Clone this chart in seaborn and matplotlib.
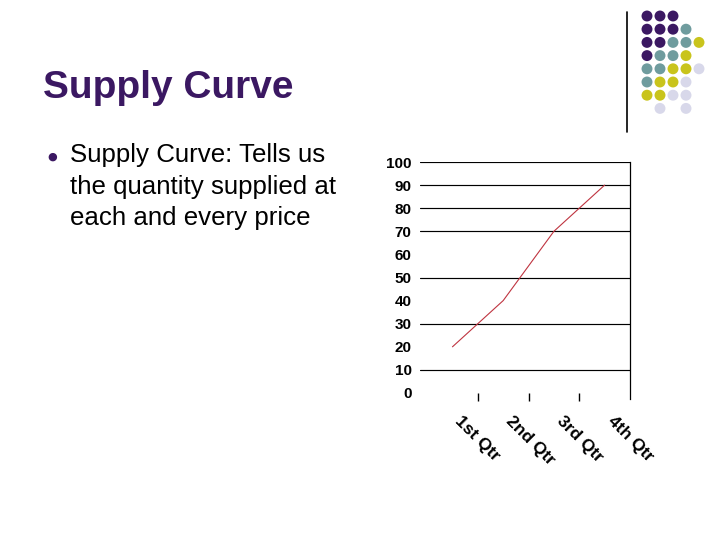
import matplotlib
matplotlib.use("Agg")
import matplotlib.pyplot as plt
import matplotlib.transforms as mtransforms
import seaborn as sns
import pandas as pd

# ---- data ----
quarters = ["1st Qtr", "2nd Qtr", "3rd Qtr", "4th Qtr"]
supply = [20, 40, 70, 90]
y_ticks = [0, 10, 20, 30, 40, 50, 60, 70, 80, 90, 100]
grid_values = [10, 30, 50, 70, 80, 90, 100]

title_text = "Supply Curve"
bullet_lines = ["Supply Curve: Tells us", "the quantity supplied at", "each and every price"]

# decorative dot grid (rows top->bottom, columns left->right)
dot_rows = [
    "PPP",
    "PPPT",
    "PPTTY",
    "PTTY",
    "TTYYL",
    "TYYL",
    "YYLL",
    " L L",
]
dot_colors = {"P": "#3b1862", "T": "#6f9c9e", "Y": "#c9c41c", "L": "#d8d8ea"}

sns.set_theme(style="white")
plt.rcParams["font.family"] = ["Liberation Sans", "DejaVu Sans"]

fig = plt.figure(figsize=(7.2, 5.4), dpi=100)
W, H = 720, 540

# ---- title and bullet text ----
fig.text(43 / W, 1 - 98 / H, title_text, fontsize=28, fontweight="bold",
         color="#3b1862", va="baseline", ha="left")
fig.text(52 / W, 1 - 157 / H, "●", fontsize=8, color="#3b1862",
         va="center", ha="center", family=["DejaVu Sans"])
for i, line in enumerate(bullet_lines):
    fig.text(70 / W, 1 - (162 + 31.5 * i) / H, line, fontsize=18.6,
             color="black", va="baseline", ha="left")

# ---- decoration ----
deco = fig.add_axes([0, 0, 1, 1], zorder=-1)
deco.set_xlim(0, W)
deco.set_ylim(H, 0)
deco.axis("off")
xs, ys, cs = [], [], []
for r, row in enumerate(dot_rows):
    for c, ch in enumerate(row):
        if ch == " ":
            continue
        xs.append(647 + 13 * c)
        ys.append(16 + 13.2 * r)
        cs.append(dot_colors[ch])
deco.scatter(xs, ys, s=62, c=cs, linewidths=0)
deco.plot([627, 627], [12, 132], color="black", lw=1.2)

# ---- chart ----
ax = fig.add_axes([420 / W, 1 - 393 / H, 210 / W, 231 / H])
df = pd.DataFrame({"quarter": quarters, "supply": supply})
sns.lineplot(data=df, x="quarter", y="supply", ax=ax, color="#bf3440",
             lw=0.8, sort=False)
ax.set_xlim(-0.64, 3.5)
ax.set_ylim(0, 100)
for gv in grid_values:
    ax.axhline(gv, color="black", lw=0.85, zorder=0)

for s in ["top", "left", "bottom"]:
    ax.spines[s].set_visible(False)
ax.spines["right"].set_visible(True)
ax.spines["right"].set_color("black")
ax.spines["right"].set_linewidth(0.9)
ax.spines["right"].set_bounds(-2.6, 100)

ax.set_yticks(y_ticks)
ax.set_yticklabels([str(v) for v in y_ticks])
for lab in ax.get_yticklabels():
    lab.set_fontsize(11)
    lab.set_fontweight("bold")
    lab.set_color("black")
ax.tick_params(axis="y", length=0, pad=6)

ax.set_xticks(range(len(quarters)))
ax.set_xticklabels(quarters)
offset = mtransforms.ScaledTranslation(5 / 100, -2 / 100, fig.dpi_scale_trans)
for lab in ax.get_xticklabels():
    lab.set_fontsize(12.5)
    lab.set_fontweight("bold")
    lab.set_color("black")
    lab.set_rotation(-45)
    lab.set_ha("left")
    lab.set_va("bottom")
    lab.set_rotation_mode("anchor")
    lab.set_transform(lab.get_transform() + offset)
ax.tick_params(axis="x", which="major", length=0, pad=22)
ax.set_xticks([0.5, 1.5, 2.5], minor=True)
ax.tick_params(axis="x", which="minor", length=6, width=1, color="black",
               direction="out", bottom=True)
ax.set_xlabel("")
ax.set_ylabel("")
ax.patch.set_alpha(0)

fig.savefig("out.png", dpi=100)
